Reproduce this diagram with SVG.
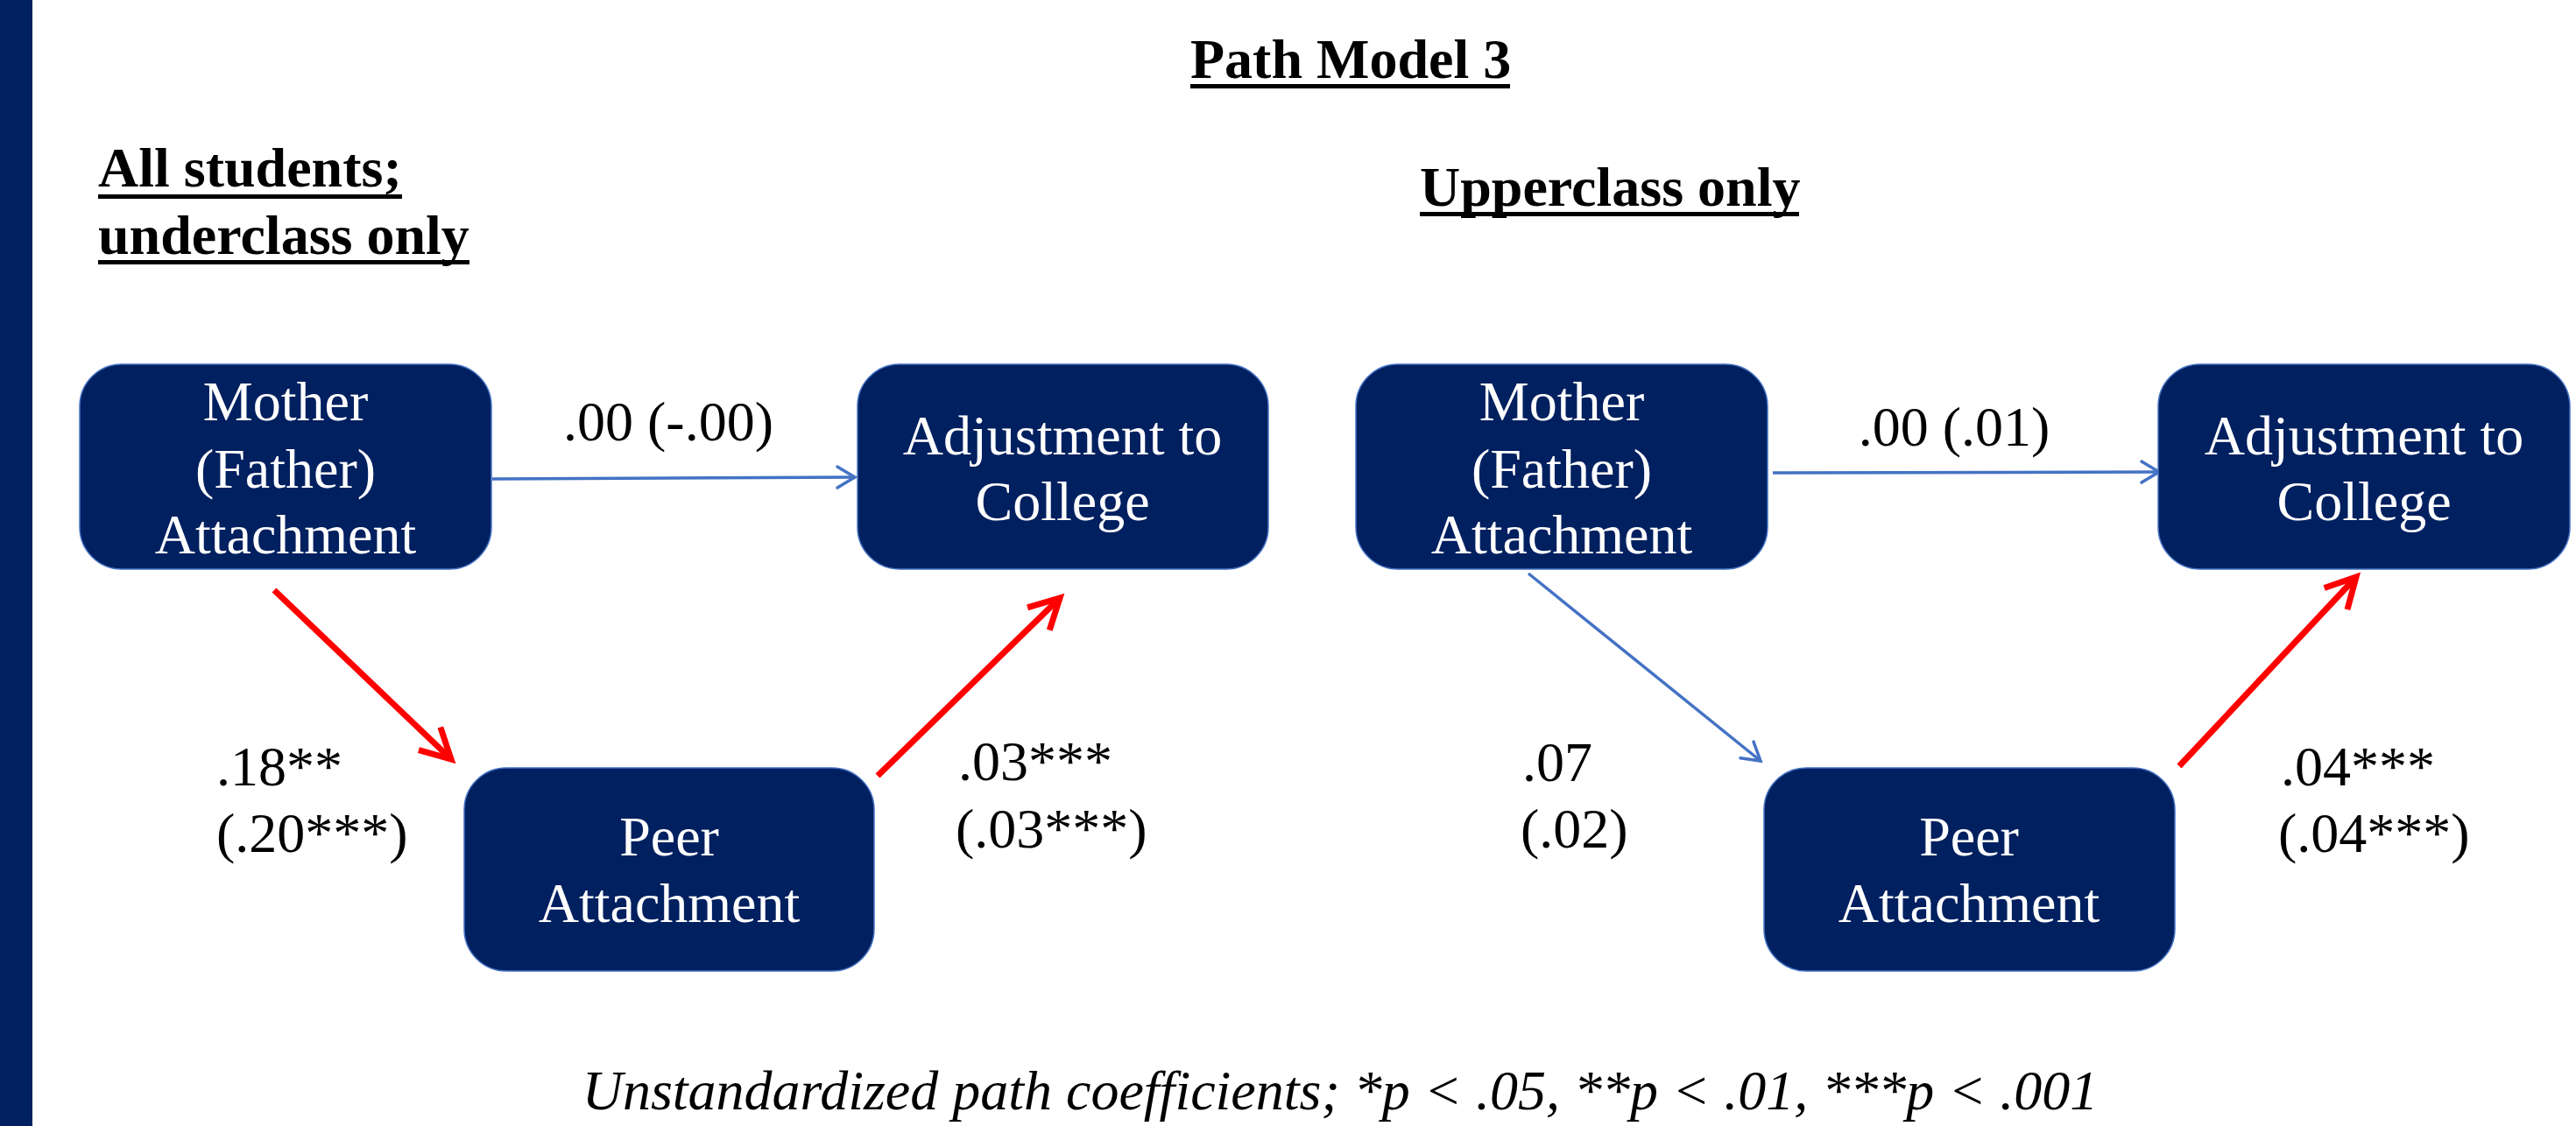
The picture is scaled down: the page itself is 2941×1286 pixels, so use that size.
<svg xmlns="http://www.w3.org/2000/svg" width="2941" height="1286" viewBox="0 0 2941 1286">
<style>
.box{fill:#002060;stroke:#4472C4;stroke-width:1.5}
.nt{font-family:"Liberation Serif","Times New Roman",serif;font-size:64px;fill:#fff;text-anchor:middle}
.lb{font-family:"Liberation Serif","Times New Roman",serif;font-size:64px;fill:#000}
.hd{font-family:"Liberation Serif","Times New Roman",serif;font-size:64px;font-weight:bold;fill:#000}
.blue{stroke:#4472C4;stroke-width:3.5;fill:none}
.red{stroke:#FF0000;stroke-width:7;fill:none}
</style>
<defs>
<marker id="ab" markerUnits="userSpaceOnUse" viewBox="-30 -20 40 40" refX="0" refY="0" markerWidth="40" markerHeight="40" orient="auto">
<path d="M-20,-12 L0,0 L-20,12" fill="none" stroke="#4472C4" stroke-width="3.5" stroke-linecap="round" stroke-linejoin="miter"/>
</marker>
<marker id="ar" markerUnits="userSpaceOnUse" viewBox="-45 -30 60 60" refX="0" refY="0" markerWidth="60" markerHeight="60" orient="auto">
<path d="M-34,-18 L0,0 L-34,18" fill="none" stroke="#FF0000" stroke-width="7" stroke-linecap="butt" stroke-linejoin="miter"/>
</marker>
</defs>
<rect x="0" y="0" width="2941" height="1286" fill="#fff"/>
<rect x="0" y="0" width="37" height="1286" fill="#002060"/>

<g id="titles">
<text class="hd" x="1359" y="89">Path Model 3</text>
<rect x="1359" y="96" width="365" height="5" fill="#000"/>
<text class="hd" x="112" y="213">All students;</text>
<rect x="112" y="222" width="347" height="5" fill="#000"/>
<text class="hd" x="112" y="290">underclass only</text>
<rect x="112" y="297" width="424" height="5" fill="#000"/>
<text class="hd" x="1621" y="235">Upperclass only</text>
<rect x="1621" y="242" width="433" height="5" fill="#000"/>
</g>

<g id="connectors">
<line class="blue" x1="562" y1="547" x2="976" y2="545" marker-end="url(#ab)"/>
<line class="red" x1="313" y1="674" x2="515" y2="867" marker-end="url(#ar)"/>
<line class="red" x1="1002" y1="886" x2="1210" y2="683" marker-end="url(#ar)"/>
<line class="blue" x1="2024" y1="540" x2="2465" y2="539" marker-end="url(#ab)"/>
<line class="blue" x1="1745" y1="655" x2="2010" y2="869" marker-end="url(#ab)"/>
<line class="red" x1="2488" y1="875" x2="2690" y2="659" marker-end="url(#ar)"/>
</g>

<g id="labels">
<text class="lb" x="763" y="503" text-anchor="middle">.00 (-.00)</text>
<text class="lb" x="247" y="897">.18**</text>
<text class="lb" x="247" y="973">(.20***)</text>
<text class="lb" x="1094" y="891">.03***</text>
<text class="lb" x="1091" y="968">(.03***)</text>
<text class="lb" x="2231" y="509" text-anchor="middle">.00 (.01)</text>
<text class="lb" x="1738" y="892">.07</text>
<text class="lb" x="1736" y="968">(.02)</text>
<text class="lb" x="2604" y="897">.04***</text>
<text class="lb" x="2601" y="973">(.04***)</text>
</g>

<g id="node-mother-left">
<rect class="box" x="91" y="416" width="470" height="234" rx="48"/>
<text class="nt" x="326" y="480">Mother</text>
<text class="nt" x="326" y="557">(Father)</text>
<text class="nt" x="326" y="632">Attachment</text>
</g>
<g id="node-adjust-left">
<rect class="box" x="979" y="416" width="469" height="234" rx="48"/>
<text class="nt" x="1213" y="519">Adjustment to</text>
<text class="nt" x="1213" y="594">College</text>
</g>
<g id="node-peer-left">
<rect class="box" x="530" y="877" width="468" height="232" rx="48"/>
<text class="nt" x="764" y="977">Peer</text>
<text class="nt" x="764" y="1053">Attachment</text>
</g>
<g id="node-mother-right">
<rect class="box" x="1548" y="416" width="470" height="234" rx="48"/>
<text class="nt" x="1783" y="480">Mother</text>
<text class="nt" x="1783" y="557">(Father)</text>
<text class="nt" x="1783" y="632">Attachment</text>
</g>
<g id="node-adjust-right">
<rect class="box" x="2464" y="416" width="470" height="234" rx="48"/>
<text class="nt" x="2699" y="519">Adjustment to</text>
<text class="nt" x="2699" y="594">College</text>
</g>
<g id="node-peer-right">
<rect class="box" x="2014" y="877" width="469" height="232" rx="48"/>
<text class="nt" x="2248" y="977">Peer</text>
<text class="nt" x="2248" y="1053">Attachment</text>
</g>

<text x="1530" y="1267" text-anchor="middle" style="font-family:'Liberation Serif','Times New Roman',serif;font-size:64px;font-style:italic;fill:#000">Unstandardized path coefficients; *p &lt; .05, **p &lt; .01, ***p &lt; .001</text>
</svg>
